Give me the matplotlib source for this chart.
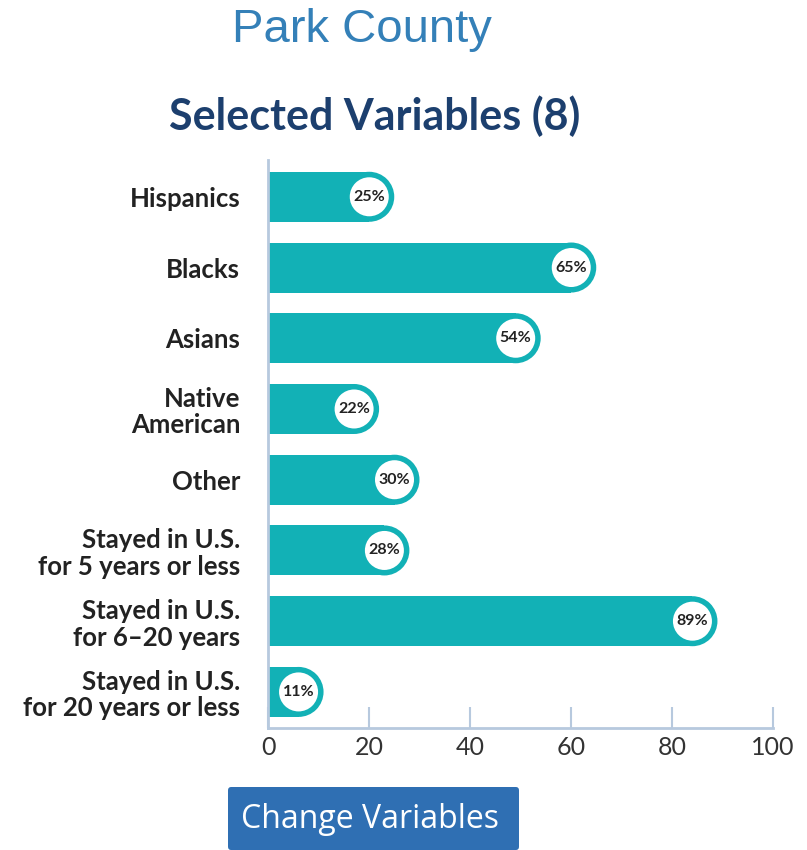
import matplotlib.pyplot as plt
from matplotlib.patches import Rectangle, Ellipse, FancyBboxPatch

categories = ['Hispanics', 'Blacks', 'Asians', 'Native\nAmerican', 'Other',
              'Stayed in U.S.\nfor 5 years or less', 'Stayed in U.S.\nfor 6\u201320 years',
              'Stayed in U.S.\nfor 20 years or less']
values = [25, 65, 54, 22, 30, 28, 89, 11]
xticks = [0, 20, 40, 60, 80, 100]

teal = '#12b1b6'
axis_col = '#b7c9de'
lab_font = 'Lato'

fig = plt.figure(figsize=(8.07, 8.5), dpi=100)
ax = fig.add_axes([268 / 807, 1 - 728 / 850, 505 / 807, 568 / 850])
ax.set_xlim(0, 100)
ax.set_ylim(7.51, -0.52)

# pixel -> data conversion
px_x = 100 / 505
px_y = 8.03 / 568
bar_h_px = 50
r_px = bar_h_px / 2
ring_px = 19.5

for i, v in enumerate(values):
    rx = r_px * px_x
    ry = r_px * px_y
    ax.add_patch(Rectangle((0, i - ry), max(v - rx, 0), 2 * ry, facecolor=teal,
                           edgecolor='none', zorder=2))
    ax.add_patch(Ellipse((v - rx, i), 2 * rx, 2 * ry, facecolor=teal,
                         edgecolor='none', zorder=2))
    ax.add_patch(Ellipse((v - rx, i), 2 * ring_px * px_x, 2 * ring_px * px_y,
                         facecolor='white', edgecolor='none', zorder=3))
    ax.text(v - rx, i, f'{v}%', ha='center', va='center', fontsize=11.5,
            fontweight='bold', color='#222222', family=lab_font, zorder=4)

ax.set_yticks(range(len(categories)))
ax.set_yticklabels(categories, fontsize=18.5, fontweight='bold', color='#222222',
                   family=lab_font, linespacing=1.12)
ax.tick_params(axis='y', length=0, pad=20)
ax.set_xticks(xticks)
ax.set_xticklabels([str(t) for t in xticks], family=lab_font)
ax.tick_params(axis='x', direction='in', length=15, width=1.5, color=axis_col,
               labelsize=18, labelcolor='#333333', pad=6)
for s in ['top', 'right']:
    ax.spines[s].set_visible(False)
for s in ['left', 'bottom']:
    ax.spines[s].set_color(axis_col)
    ax.spines[s].set_linewidth(2)

fig.text(362 / 807, 1 - 30 / 850, 'Park County', ha='center', va='center',
         fontsize=34, color='#3480b8', family='Liberation Sans')
fig.text(375 / 807, 1 - 116 / 850, 'Selected Variables (8)', ha='center', va='center',
         fontsize=31, fontweight='bold', color='#1c3f6e', family=lab_font)

btn = FancyBboxPatch((228 / 807, 0), 291 / 807, 63 / 850,
                     boxstyle='round,pad=0,rounding_size=0.004',
                     transform=fig.transFigure, facecolor='#2f6fb3', edgecolor='none')
fig.patches.append(btn)
fig.text(370 / 807, 1 - 820 / 850, 'Change Variables', ha='center', va='center',
         fontsize=23, color='white', family='Open Sans')

fig.savefig('out.png', dpi=100)
